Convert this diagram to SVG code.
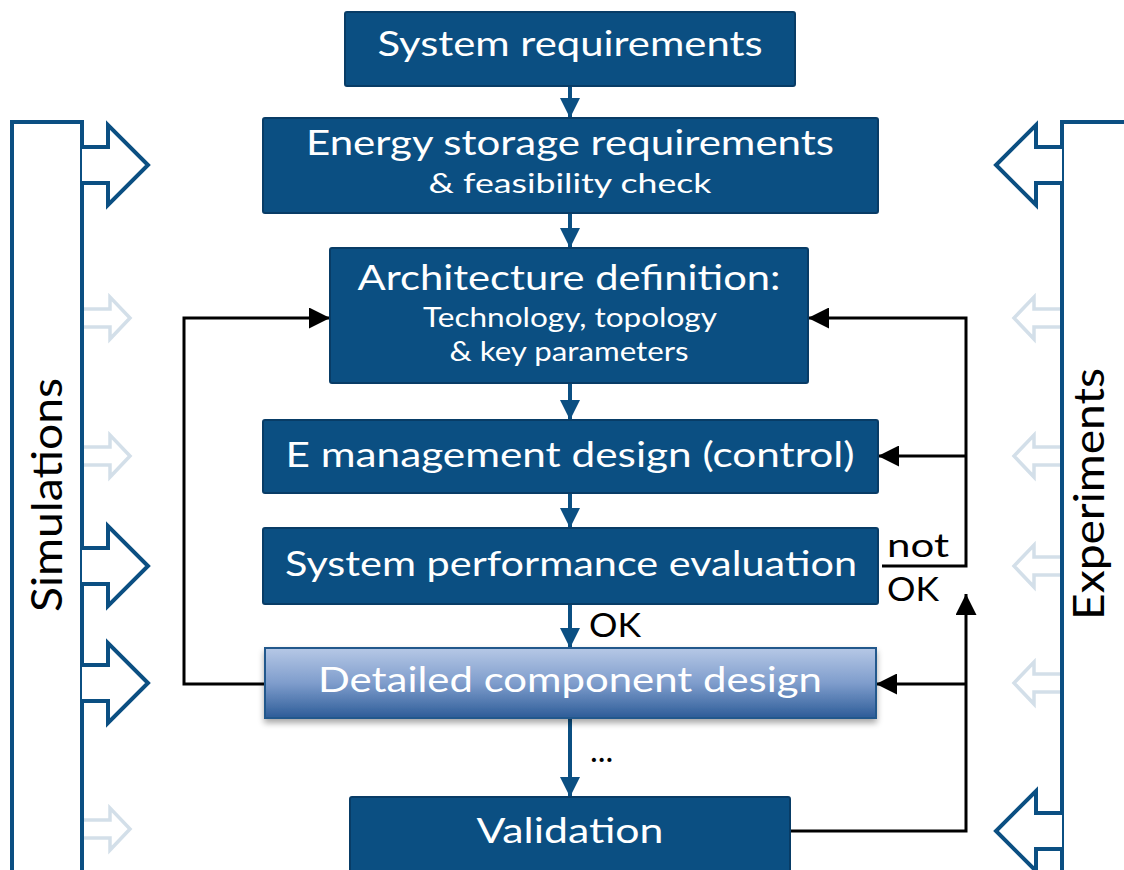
<svg xmlns="http://www.w3.org/2000/svg" width="1124" height="870" viewBox="0 0 1124 870">
  <style>
    .box { fill: #0b4f82; stroke: #083c66; stroke-width: 2; }
    .lbl { fill: #ffffff; font-family: "Lato", "Open Sans", "Liberation Sans", sans-serif; text-anchor: middle; }
    .big { font-size: 34px; }
    .small { font-size: 26px; }
    .note { fill: #000000; font-family: "Lato", "Open Sans", "Liberation Sans", sans-serif; font-size: 33px; }
    .side { fill: #000000; font-family: "Lato", "Open Sans", "Liberation Sans", sans-serif; font-size: 42px; text-anchor: middle; }
    .flow { stroke: #0b4f82; stroke-width: 4; fill: none; }
    .loop { stroke: #000000; stroke-width: 3; fill: none; }
    .frame { fill: #ffffff; stroke: #0b4f82; stroke-width: 4; }
    .bigarrow { fill: #ffffff; stroke: #0b4f82; stroke-width: 4; stroke-linejoin: miter; }
    .fadearrow { fill: #ffffff; stroke: #d3dfe9; stroke-width: 3.5; }
  </style>
  <defs>
    <marker id="blueHead" viewBox="0 0 10 10" refX="10" refY="5" markerWidth="6" markerHeight="5" markerUnits="strokeWidth" orient="auto">
      <path d="M0,0 L10,5 L0,10 Z" fill="#0b4f82"/>
    </marker>
    <marker id="blackHead" viewBox="0 0 10 10" refX="10" refY="5" markerWidth="7" markerHeight="7" markerUnits="strokeWidth" orient="auto">
      <path d="M0,0 L10,5 L0,10 Z" fill="#000000"/>
    </marker>
    <linearGradient id="detailFill" x1="0" y1="0" x2="0" y2="1">
      <stop offset="0" stop-color="#b6c8e6"/>
      <stop offset="0.5" stop-color="#7f9dcc"/>
      <stop offset="1" stop-color="#2d5c98"/>
    </linearGradient>
    <filter id="shadow" x="-5%" y="-20%" width="110%" height="150%">
      <feGaussianBlur in="SourceAlpha" stdDeviation="3"/>
      <feOffset dx="0" dy="4" result="b"/>
      <feComponentTransfer><feFuncA type="linear" slope="0.35"/></feComponentTransfer>
      <feMerge><feMergeNode/><feMergeNode in="SourceGraphic"/></feMerge>
    </filter>
    <!-- outline block arrow pointing right, origin at frame edge, centred on y=0 -->
    <path id="blockRight" d="M0,-18 L26,-18 L26,-40 L66,0 L26,40 L26,18 L0,18"/>
    <path id="thinRight" d="M0,-9 L26,-9 L26,-21 L46,0 L26,21 L26,9 L0,9"/>
  </defs>

  <!-- side frames -->
  <g id="simulations">
    <rect class="frame" x="12" y="122" width="70" height="760"/>
    <text class="side" transform="translate(62,495) rotate(-90)" textLength="234" lengthAdjust="spacingAndGlyphs">Simulations</text>
    <use href="#blockRight" class="bigarrow" transform="translate(82,165)"/>
    <use href="#thinRight" class="fadearrow" transform="translate(84,318)"/>
    <use href="#thinRight" class="fadearrow" transform="translate(84,456)"/>
    <use href="#blockRight" class="bigarrow" transform="translate(82,566)"/>
    <use href="#blockRight" class="bigarrow" transform="translate(82,683)"/>
    <use href="#thinRight" class="fadearrow" transform="translate(84,829)"/>
  </g>
  <g id="experiments">
    <rect class="frame" x="1062" y="122" width="80" height="760"/>
    <text class="side" transform="translate(1104,494) rotate(-90)" textLength="252" lengthAdjust="spacingAndGlyphs">Experiments</text>
    <use href="#blockRight" class="bigarrow" transform="translate(1062,165) scale(-1,1)"/>
    <use href="#thinRight" class="fadearrow" transform="translate(1060,318) scale(-1,1)"/>
    <use href="#thinRight" class="fadearrow" transform="translate(1060,456) scale(-1,1)"/>
    <use href="#thinRight" class="fadearrow" transform="translate(1060,566) scale(-1,1)"/>
    <use href="#thinRight" class="fadearrow" transform="translate(1060,683) scale(-1,1)"/>
    <use href="#blockRight" class="bigarrow" transform="translate(1062,831) scale(-1,1)"/>
  </g>

  <!-- connectors -->
  <g id="connectors">
    <line class="flow" x1="570" y1="87" x2="570" y2="118" marker-end="url(#blueHead)"/>
    <line class="flow" x1="570" y1="213" x2="570" y2="248" marker-end="url(#blueHead)"/>
    <line class="flow" x1="570" y1="383" x2="570" y2="420" marker-end="url(#blueHead)"/>
    <line class="flow" x1="570" y1="493" x2="570" y2="528" marker-end="url(#blueHead)"/>
    <line class="flow" x1="570" y1="604" x2="570" y2="648" marker-end="url(#blueHead)"/>
    <line class="flow" x1="570" y1="718" x2="570" y2="797" marker-end="url(#blueHead)"/>

    <polyline class="loop" points="265,684 184,684 184,318 330,318" marker-end="url(#blackHead)"/>
    <polyline class="loop" points="882,566 966,566 966,318 808,318" marker-end="url(#blackHead)"/>
    <line class="loop" x1="966" y1="456" x2="878" y2="456" marker-end="url(#blackHead)"/>
    <polyline class="loop" points="790,831 966,831 966,594" marker-end="url(#blackHead)"/>
    <line class="loop" x1="966" y1="684" x2="876" y2="684" marker-end="url(#blackHead)"/>

    <text class="note" x="589" y="637" textLength="52" lengthAdjust="spacingAndGlyphs">OK</text>
    <text class="note" x="590" y="762" font-size="28" fill="#333333">...</text>
    <text class="note" x="887" y="557" textLength="62" lengthAdjust="spacingAndGlyphs">not</text>
    <text class="note" x="887" y="601" textLength="52" lengthAdjust="spacingAndGlyphs">OK</text>
  </g>

  <!-- process steps -->
  <g id="system-requirements">
    <rect class="box" x="345" y="12" width="450" height="74" rx="2"/>
    <text class="lbl big" x="570" y="56" textLength="385" lengthAdjust="spacingAndGlyphs">System requirements</text>
  </g>
  <g id="energy-storage">
    <rect class="box" x="263" y="118" width="615" height="95" rx="2"/>
    <text class="lbl big" x="570" y="155" textLength="528" lengthAdjust="spacingAndGlyphs">Energy storage requirements</text>
    <text class="lbl small" x="570" y="193" textLength="283" lengthAdjust="spacingAndGlyphs">&amp; feasibility check</text>
  </g>
  <g id="architecture">
    <rect class="box" x="330" y="248" width="478" height="135" rx="2"/>
    <text class="lbl big" x="569" y="290" textLength="423" lengthAdjust="spacingAndGlyphs">Architecture definition:</text>
    <text class="lbl small" x="570" y="327" textLength="294" lengthAdjust="spacingAndGlyphs">Technology, topology</text>
    <text class="lbl small" x="569" y="361" textLength="239" lengthAdjust="spacingAndGlyphs">&amp; key parameters</text>
  </g>
  <g id="energy-management">
    <rect class="box" x="263" y="420" width="615" height="73" rx="2"/>
    <text class="lbl big" x="570" y="467" textLength="569" lengthAdjust="spacingAndGlyphs">E management design (control)</text>
  </g>
  <g id="performance">
    <rect class="box" x="263" y="528" width="615" height="76" rx="2"/>
    <text class="lbl big" x="571" y="576" textLength="572" lengthAdjust="spacingAndGlyphs">System performance evaluation</text>
  </g>
  <g id="detailed-design">
    <rect x="265" y="648" width="611" height="70" fill="url(#detailFill)" stroke="#24588c" stroke-width="2" filter="url(#shadow)"/>
    <text class="lbl big" x="570" y="692" textLength="504" lengthAdjust="spacingAndGlyphs">Detailed component design</text>
  </g>
  <g id="validation">
    <rect class="box" x="350" y="797" width="440" height="80" rx="2"/>
    <text class="lbl big" x="570" y="843" textLength="187" lengthAdjust="spacingAndGlyphs">Validation</text>
  </g>
</svg>
